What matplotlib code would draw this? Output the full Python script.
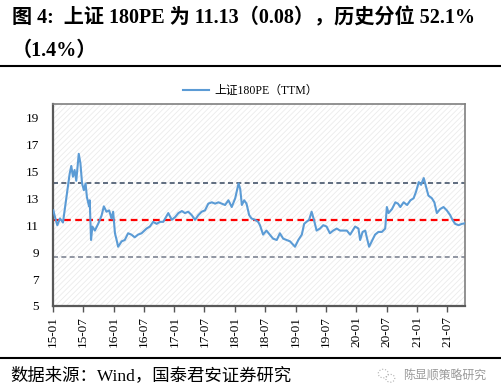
import numpy as np
import pandas as pd
import matplotlib
matplotlib.use("Agg")
import matplotlib.pyplot as plt
from matplotlib.patches import Rectangle, Ellipse
from matplotlib.lines import Line2D

plt.rcParams['font.family'] = ['Liberation Serif', 'Noto Sans CJK SC']
plt.rcParams['hatch.linewidth'] = 0.6
plt.rcParams['hatch.color'] = '#ebebeb'

# SSE 180 PE (TTM)
dates = [
    "2015-01-03", "2015-01-13", "2015-01-27", "2015-02-12", "2015-03-02", "2015-03-22",
    "2015-04-11", "2015-04-21", "2015-05-01", "2015-05-11", "2015-05-21", "2015-06-05",
    "2015-06-15", "2015-06-25", "2015-07-06", "2015-07-16", "2015-07-24", "2015-08-06",
    "2015-08-10", "2015-08-18", "2015-08-26", "2015-09-10", "2015-09-30", "2015-10-20",
    "2015-11-03", "2015-11-19", "2015-12-05", "2015-12-19", "2015-12-29", "2016-01-09",
    "2016-01-19", "2016-01-28", "2016-02-18", "2016-03-08", "2016-03-28", "2016-04-17",
    "2016-05-07", "2016-05-27", "2016-06-17", "2016-07-17", "2016-08-06", "2016-08-26",
    "2016-09-16", "2016-10-06", "2016-10-26", "2016-11-25", "2016-12-16", "2017-01-05",
    "2017-01-25", "2017-02-15", "2017-03-05", "2017-03-25", "2017-04-15", "2017-05-05",
    "2017-05-25", "2017-06-14", "2017-07-04", "2017-07-24", "2017-08-14", "2017-09-03",
    "2017-09-23", "2017-10-13", "2017-11-02", "2017-11-22", "2017-12-12", "2018-01-02",
    "2018-01-22", "2018-02-01", "2018-02-11", "2018-02-25", "2018-03-11", "2018-03-27",
    "2018-04-10", "2018-05-01", "2018-05-20", "2018-05-31", "2018-06-19", "2018-07-09",
    "2018-07-29", "2018-08-18", "2018-09-09", "2018-09-28", "2018-10-18", "2018-11-08",
    "2018-11-28", "2018-12-28", "2019-01-17", "2019-02-07", "2019-02-21", "2019-03-07",
    "2019-03-23", "2019-04-07", "2019-04-21", "2019-05-07", "2019-05-27", "2019-06-16",
    "2019-07-06", "2019-07-26", "2019-08-15", "2019-09-05", "2019-09-25", "2019-10-15",
    "2019-11-05", "2019-11-25", "2019-12-25", "2020-01-14", "2020-01-24", "2020-02-08",
    "2020-02-24", "2020-03-04", "2020-03-18", "2020-04-03", "2020-04-23", "2020-05-13",
    "2020-06-03", "2020-06-23", "2020-07-03", "2020-07-13", "2020-08-03", "2020-08-23",
    "2020-09-08", "2020-09-22", "2020-10-12", "2020-11-02", "2020-11-22", "2020-12-11",
    "2020-12-26", "2021-01-11", "2021-01-25", "2021-02-10", "2021-02-24", "2021-03-10",
    "2021-03-31", "2021-04-15", "2021-04-30", "2021-05-20", "2021-06-09", "2021-06-29",
    "2021-07-19", "2021-08-02", "2021-08-18", "2021-09-08", "2021-09-28", "2021-10-12",
]
pe = [
    12.1, 11.6, 11.0, 11.5, 11.2, 13.0,
    14.8, 15.4, 14.6, 15.1, 14.3, 16.3,
    15.6, 14.1, 13.6, 14.1, 13.1, 12.4,
    12.85, 9.9, 10.9, 10.6, 11.1, 11.7,
    12.4, 12.0, 12.1, 11.5, 12.0, 10.4,
    9.9, 9.4, 9.8, 9.9, 10.4, 10.3,
    10.1, 10.3, 10.4, 10.75, 10.9, 11.25,
    11.1, 11.25, 11.25, 11.9, 11.4, 11.6,
    11.9, 12.05, 11.9, 12.0, 11.75, 11.4,
    11.75, 12.0, 12.1, 12.6, 12.7, 12.6,
    12.7, 12.6, 12.5, 12.85, 12.35, 13.0,
    14.1, 13.7, 12.5, 12.85, 12.6, 11.75,
    11.5, 11.4, 11.25, 11.0, 10.3, 10.6,
    10.3, 10.0, 9.9, 10.4, 10.0, 9.9,
    9.8, 9.4, 9.9, 10.3, 11.1, 11.25,
    11.4, 12.0, 11.4, 10.6, 10.75, 11.0,
    10.9, 10.4, 10.6, 10.75, 10.6, 10.6,
    10.6, 10.3, 10.9, 10.75, 9.9, 10.5,
    10.6, 10.1, 9.4, 9.8, 10.3, 10.5,
    10.5, 10.75, 12.35, 11.9, 12.2, 12.7,
    12.6, 12.35, 12.7, 12.5, 12.85, 13.0,
    13.5, 14.2, 14.0, 14.5, 13.85, 13.2,
    13.0, 12.7, 11.9, 12.2, 12.35, 12.1,
    11.75, 11.4, 11.1, 11.0, 11.1, 11.13,
]
pe_mean = 11.37
pe_plus_std = 14.11
pe_minus_std = 8.65

tick_dates = pd.date_range("2015-01-01", "2021-07-01", freq="6MS")
tick_labels = [d.strftime("%y-%m") for d in tick_dates]
y_ticks = [5, 7, 9, 11, 13, 15, 17, 19]

x = pd.to_datetime(dates)

fig = plt.figure(figsize=(5.01, 3.92), dpi=100)
ax = fig.add_axes([0.1058, 0.2194, 0.8222, 0.5153])

ax.add_patch(Rectangle((0, 0), 1, 1, transform=ax.transAxes, facecolor='none',
                       hatch='//////', edgecolor='#ebebeb', lw=0, zorder=0))

ax.plot(x, pe, color='#5B9BD5', lw=1.5, zorder=3)
ax.axhline(pe_plus_std, color='#44546A', lw=1.2, ls=(0, (3, 2)), zorder=2)
ax.axhline(pe_mean, color='#FF0000', lw=1.6, ls=(0, (3, 2)), zorder=2)
ax.axhline(pe_minus_std, color='#7F8593', lw=1.2, ls=(0, (3, 2)), zorder=2)

ax.set_xlim(pd.Timestamp("2015-01-01"), pd.Timestamp("2021-10-16"))
ax.set_ylim(5, 20)
ax.set_yticks(y_ticks)
ax.set_yticklabels([str(v) for v in y_ticks], fontsize=9.5)
ax.tick_params(axis='y', length=0, pad=10)
ax.set_xticks(tick_dates)
ax.set_xticklabels(tick_labels, rotation=90, fontsize=9.5)
ax.tick_params(axis='x', length=4, width=1, color='#555555', pad=3, direction='out')

for side in ['left', 'bottom']:
    ax.spines[side].set_color('#595959')
    ax.spines[side].set_linewidth(1.6)
for side in ['top', 'right']:
    ax.spines[side].set_color('#7f7f7f')
    ax.spines[side].set_linewidth(1.2)

fig.legend(handles=[Line2D([], [], color='#5B9BD5', lw=1.5)],
           labels=['上证180PE（TTM）'], loc='center',
           bbox_to_anchor=(0.5, 0.768), frameon=False, fontsize=8.5,
           handlelength=2.2, handletextpad=0.4)

fig.text(0.024, 0.953, "图 4:  上证 180PE 为 11.13（0.08），历史分位 52.1%",
         fontsize=14.5, fontweight='bold', va='center', ha='left')
fig.text(0.024, 0.870, "（1.4%）", fontsize=14.5, fontweight='bold',
         va='center', ha='left')
fig.add_artist(Line2D([0, 1], [0.832, 0.832], color='black', lw=1.5,
                      transform=fig.transFigure))
fig.add_artist(Line2D([0, 1], [0.087, 0.087], color='black', lw=1.5,
                      transform=fig.transFigure))
fig.text(0.02, 0.041, "数据来源：Wind，国泰君安证券研究", fontsize=12.5,
         va='center', ha='left')

# watermark
fig.add_artist(Ellipse((0.765, 0.047), 0.02, 0.022, fill=False, ec='#b0b0b0',
                       lw=0.8, ls=':', transform=fig.transFigure))
fig.add_artist(Ellipse((0.779, 0.035), 0.018, 0.02, fill=False, ec='#b0b0b0',
                       lw=0.8, ls=':', transform=fig.transFigure))
fig.text(0.804, 0.041, "陈显顺策略研究", fontsize=8.6, color='#9a9a9a',
         va='center', ha='left', family=['Noto Sans CJK SC'])

fig.savefig("out.png", dpi=100)
